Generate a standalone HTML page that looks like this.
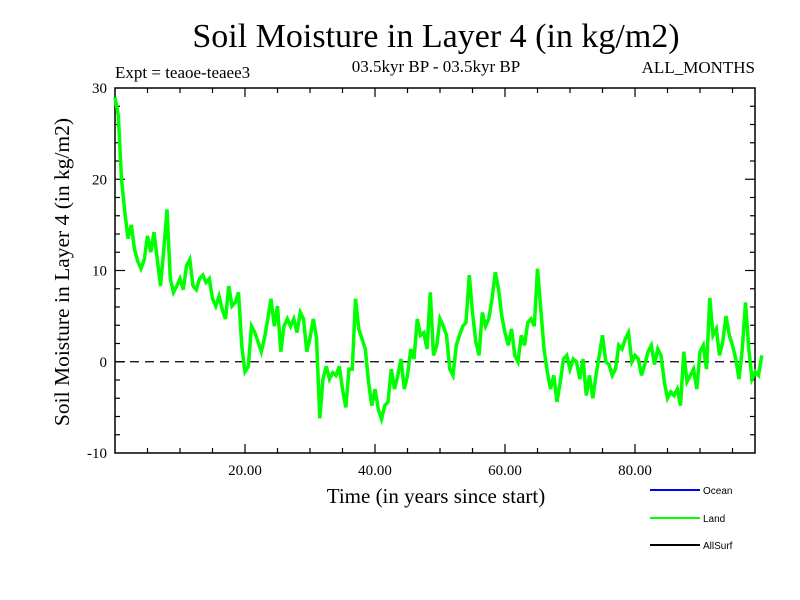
<!DOCTYPE html>
<html><head><meta charset="utf-8"><style>
body{margin:0;background:#fff;}
svg{display:block;font-family:"Liberation Serif",serif;}
</style></head><body>
<svg id="chart" width="800" height="600" viewBox="0 0 800 600">
<rect width="800" height="600" fill="#fff"/>
<text x="436" y="47" font-size="34" text-anchor="middle">Soil Moisture in Layer 4 (in kg/m2)</text>
<text x="115" y="78" font-size="17">Expt = teaoe-teaee3</text>
<text x="436" y="72" font-size="17" text-anchor="middle">03.5kyr BP - 03.5kyr BP</text>
<text x="755" y="73" font-size="17" text-anchor="end">ALL_MONTHS</text>
<text transform="translate(69,272) rotate(-90)" font-size="21.5" text-anchor="middle">Soil Moisture in Layer 4 (in kg/m2)</text>
<text x="436" y="503" font-size="21" text-anchor="middle">Time (in years since start)</text>
<g id="axes"></g>
<g id="series"></g>
<g>
<line x1="650" y1="490" x2="700" y2="490" stroke="#0000ff" stroke-width="2"/>
<text x="703" y="494" font-size="10" font-family="Liberation Sans,sans-serif">Ocean</text>
<line x1="650" y1="518" x2="700" y2="518" stroke="#00ff00" stroke-width="2"/>
<text x="703" y="522" font-size="10" font-family="Liberation Sans,sans-serif">Land</text>
<line x1="650" y1="545" x2="700" y2="545" stroke="#000" stroke-width="2"/>
<text x="703" y="549" font-size="10" font-family="Liberation Sans,sans-serif">AllSurf</text>
</g>
</svg>
<script>
const xTickValues = [20, 40, 60, 80];
const xTickLabels = ["20.00", "40.00", "60.00", "80.00"];
const yTickValues = [-10, 0, 10, 20, 30];
const yTickLabels = ["-10", "0", "10", "20", "30"];
const timeStart = 0;
const timeStep = 0.5;
const landValues = [29,27,20,16.4,13.5,15,12.3,11,10.2,11.2,13.8,12,14.2,11.2,8.3,12.3,16.7,9.1,7.6,8.3,9.1,7.9,10.5,11.2,8.3,7.9,9.1,9.5,8.7,9.1,6.9,6.1,7.2,5.7,4.7,8.3,6.1,6.5,7.6,1.7,-1.1,-0.5,3.9,3.2,2.2,1.1,2.6,4.7,6.9,3.9,6.1,1.1,3.9,4.7,3.9,4.7,3.2,5.4,4.7,1.1,2.6,4.7,2.6,-6.2,-1.9,-0.5,-1.9,-1.2,-1.5,-0.5,-3,-5,-0.8,-0.8,6.9,3.6,2.5,1.4,-2.2,-4.8,-3,-5.2,-6.3,-4.8,-4.4,-0.8,-3,-1.5,0.3,-3,-1.5,1.4,0.3,4.7,2.9,3.2,1.4,7.6,0.7,1.8,4.7,3.9,2.9,-0.8,-1.5,1.8,2.9,3.9,4.3,9.5,5.4,2.2,0.7,5.4,3.9,4.7,6.9,9.8,8,5,3.2,1.8,3.6,0.7,0,2.9,1.8,4.3,4.7,3.9,10.2,5.8,1.4,-1.1,-3,-1.5,-4.4,-2.2,0.3,0.7,-0.8,0.3,0,-1.9,0.3,-3.7,-1.5,-4,-1.5,0.7,2.9,0,-0.3,-1.5,-0.8,1.8,1.4,2.5,3.2,0,0.7,0.3,-1.5,-0.3,1.1,1.8,-0.3,1.4,0.7,-2.2,-4,-3.3,-3.7,-3,-4.8,1.1,-2.2,-1.5,-0.8,-3,1.1,1.8,-0.8,7,2.9,3.6,0.7,2.2,5,2.9,1.8,0.3,-1.9,1.4,6.5,1.4,-1.9,-1.1,-1.5,0.7];

const L=115,R=755,T=88,B=453;
const xMin=0,xMax=98.46,yMin=-10,yMax=30;
const xs=v=>L+(v-xMin)/(xMax-xMin)*(R-L);
const ys=v=>B-(v-yMin)/(yMax-yMin)*(B-T);
const NS="http://www.w3.org/2000/svg";
function mk(tag,attrs,parent){const e=document.createElementNS(NS,tag);for(const k in attrs)e.setAttribute(k,attrs[k]);parent.appendChild(e);return e;}
const axes=document.getElementById('axes');
const frame=mk('rect',{x:L,y:T,width:R-L,height:B-T,fill:'none',stroke:'#000','stroke-width':1.5},axes);


for(let v=5;v<xMax;v+=5){
  const major=xTickValues.includes(v);const len=major?9:5;
  const t1=mk('line',{x1:xs(v),x2:xs(v),y1:B,y2:B-len,stroke:'#000','stroke-width':1.2},axes);
  
  
  const t2=mk('line',{x1:xs(v),x2:xs(v),y1:T,y2:T+len,stroke:'#000','stroke-width':1.2},axes);
  
  
}
xTickValues.forEach((v,i)=>{
  const t=mk('text',{x:xs(v),y:B+22,'font-size':15,'text-anchor':'middle'},axes);t.textContent=xTickLabels[i];
  
  
});
for(let v=yMin+2;v<yMax;v+=2){
  const major=yTickValues.includes(v);const len=major?10:5;
  const t1=mk('line',{x1:L,x2:L+len,y1:ys(v),y2:ys(v),stroke:'#000','stroke-width':1.2},axes);
  
  
  const t2=mk('line',{x1:R,x2:R-len,y1:ys(v),y2:ys(v),stroke:'#000','stroke-width':1.2},axes);
  
  
}
yTickValues.forEach((v,i)=>{
  const t=mk('text',{x:L-8,y:ys(v)+5,'font-size':15,'text-anchor':'end'},axes);t.textContent=yTickLabels[i];
  
  
});
const zero=mk('line',{x1:L,x2:R,y1:ys(0),y2:ys(0),stroke:'#000','stroke-width':1.2,'stroke-dasharray':'9,6'},axes);


const pts=landValues.map((v,i)=>xs(timeStart+i*timeStep).toFixed(1)+','+ys(v).toFixed(1)).join(' ');
const line=mk('polyline',{points:pts,fill:'none',stroke:'#00ff00','stroke-width':3.5,'stroke-linejoin':'miter'},document.getElementById('series'));


</script>
</body></html>
